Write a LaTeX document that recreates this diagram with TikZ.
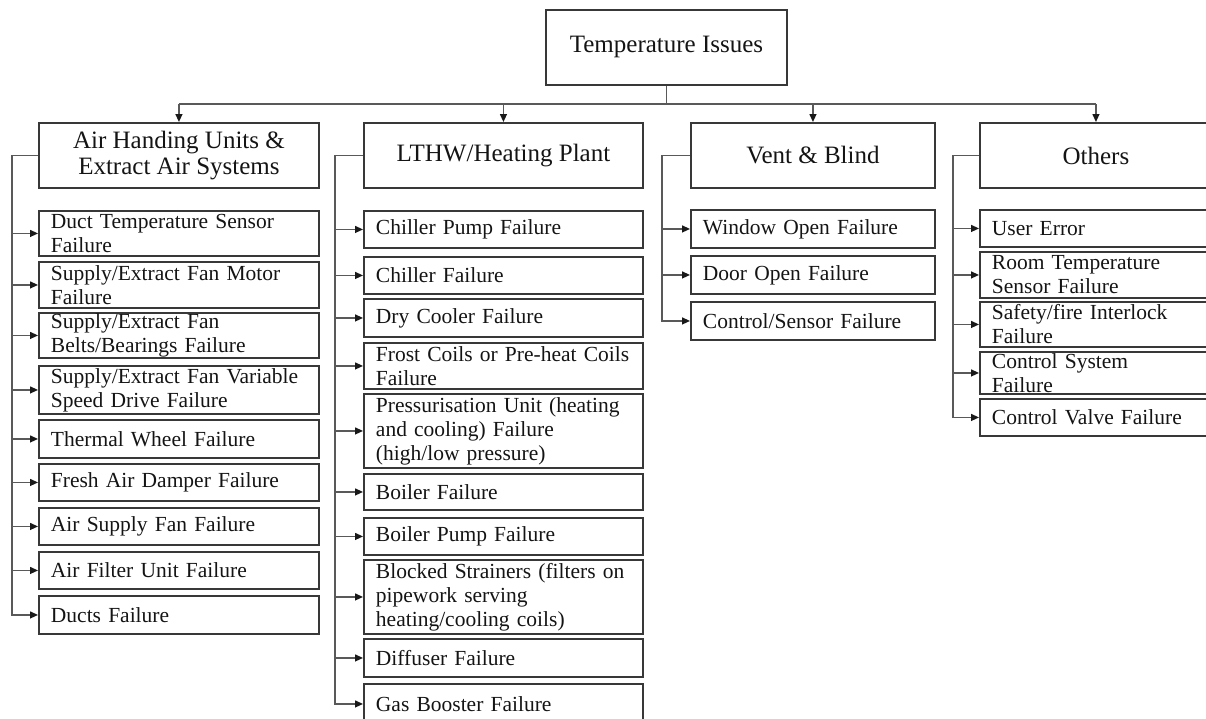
\documentclass[tikz,border=0pt]{standalone}
\usepackage{fontspec}
\setmainfont{Liberation Serif}
\usetikzlibrary{arrows.meta}
\begin{document}
\begin{tikzpicture}[x=1pt,y=-1pt,
  box/.style={draw=black!78, line width=1.9pt, rectangle, inner xsep=12pt, inner ysep=0pt,
    anchor=north west, align=left, text=black!92},
  hbox/.style={box, align=center, font=\fontsize{25}{26}\selectfont, minimum height=65pt},
  cbox/.style={box, font=\fontsize{21.5}{24}\selectfont},
  colA/.style={cbox, minimum width=280pt, text width=256pt},
  colB/.style={cbox, minimum width=279pt, text width=255pt},
  colC/.style={cbox, minimum width=244pt, text width=220pt},
  colD/.style={cbox, minimum width=232pt, text width=208pt},
  conn/.style={draw=black!65, line width=1.3pt},
  arr/.style={conn, -{Triangle[length=8pt,width=7pt,color=black!90,fill=black!90]}}
]
\useasboundingbox (0,0) rectangle (1206,718);

% root and headers
\node[hbox, minimum width=241pt, minimum height=75pt] (root) at (545,9) {Temperature Issues};
\node[hbox, minimum width=280pt] (h1) at (38,122) {Air Handing Units \&\\Extract Air Systems};
\node[hbox, minimum width=279pt] (h2) at (363,122) {LTHW/Heating Plant};
\node[hbox, minimum width=244pt] (h3) at (690,122) {Vent \& Blind};
\node[hbox, minimum width=232pt] (h4) at (979,122) {Others};

% column 1
\node[colA, minimum height=45pt] (a1) at (38,210) {Duct Temperature Sensor\\Failure};
\node[colA, minimum height=46pt] (a2) at (38,261) {Supply/Extract Fan Motor\\Failure};
\node[colA, minimum height=45pt] (a3) at (38,312) {Supply/Extract Fan\\Belts/Bearings Failure};
\node[colA, minimum height=48pt] (a4) at (38,365) {Supply/Extract Fan Variable\\Speed Drive Failure};
\node[colA, minimum height=38pt] (a5) at (38,419) {Thermal Wheel Failure};
\node[colA, minimum height=37pt] (a6) at (38,463) {Fresh Air Damper Failure};
\node[colA, minimum height=37pt] (a7) at (38,507) {Air Supply Fan Failure};
\node[colA, minimum height=37pt] (a8) at (38,551) {Air Filter Unit Failure};
\node[colA, minimum height=38pt] (a9) at (38,595) {Ducts Failure};

% column 2
\node[colB, minimum height=37pt] (b1) at (363,210) {Chiller Pump Failure};
\node[colB, minimum height=37pt] (b2) at (363,256) {Chiller Failure};
\node[colB, minimum height=38pt] (b3) at (363,298) {Dry Cooler Failure};
\node[colB, minimum height=46pt] (b4) at (363,342) {Frost Coils or Pre-heat Coils\\Failure};
\node[colB, minimum height=74pt] (b5) at (363,393) {Pressurisation Unit (heating\\and cooling) Failure\\(high/low pressure)};
\node[colB, minimum height=36pt] (b6) at (363,473) {Boiler Failure};
\node[colB, minimum height=37pt] (b7) at (363,517) {Boiler Pump Failure};
\node[colB, minimum height=74pt] (b8) at (363,559) {Blocked Strainers (filters on\\pipework serving\\heating/cooling coils)};
\node[colB, minimum height=38pt] (b9) at (363,638) {Diffuser Failure};
\node[colB, minimum height=40pt] (b10) at (363,683) {Gas Booster Failure};

% column 3
\node[colC, minimum height=38pt] (v1) at (690,209) {Window Open Failure};
\node[colC, minimum height=38pt] (v2) at (690,255) {Door Open Failure};
\node[colC, minimum height=38pt] (v3) at (690,301) {Control/Sensor Failure};

% column 4
\node[colD, minimum height=37pt] (o1) at (979,209) {User Error};
\node[colD, minimum height=46pt] (o2) at (979,251) {Room Temperature\\Sensor Failure};
\node[colD, minimum height=45pt] (o3) at (979,301) {Safety/fire Interlock\\Failure};
\node[colD, minimum height=42pt] (o4) at (979,351) {Control System\\Failure};
\node[colD, minimum height=37pt] (o5) at (979,398) {Control Valve Failure};

% root bus
\coordinate (bus) at (666,104);
\draw[conn] (root.south) -- (root.south |- bus);
\draw[conn] (h1.north |- bus) -- (h4.north |- bus);
\foreach \h in {h1,h2,h3,h4} \draw[arr] (\h.north |- bus) -- (\h.north);

% trunks
\coordinate (ta) at (12,0);
\coordinate (tb) at (335,0);
\coordinate (tc) at (662,0);
\coordinate (td) at (953,0);

\draw[arr] (h1.west) -- (ta |- h1.west) |- (a9.west);
\foreach \c in {a1,a2,a3,a4,a5,a6,a7,a8} \draw[arr] (ta |- \c.west) -- (\c.west);

\draw[arr] (h2.west) -- (tb |- h2.west) |- (b10.west);
\foreach \c in {b1,b2,b3,b4,b5,b6,b7,b8,b9} \draw[arr] (tb |- \c.west) -- (\c.west);

\draw[arr] (h3.west) -- (tc |- h3.west) |- (v3.west);
\foreach \c in {v1,v2} \draw[arr] (tc |- \c.west) -- (\c.west);

\draw[arr] (h4.west) -- (td |- h4.west) |- (o5.west);
\foreach \c in {o1,o2,o3,o4} \draw[arr] (td |- \c.west) -- (\c.west);
\end{tikzpicture}
\end{document}
